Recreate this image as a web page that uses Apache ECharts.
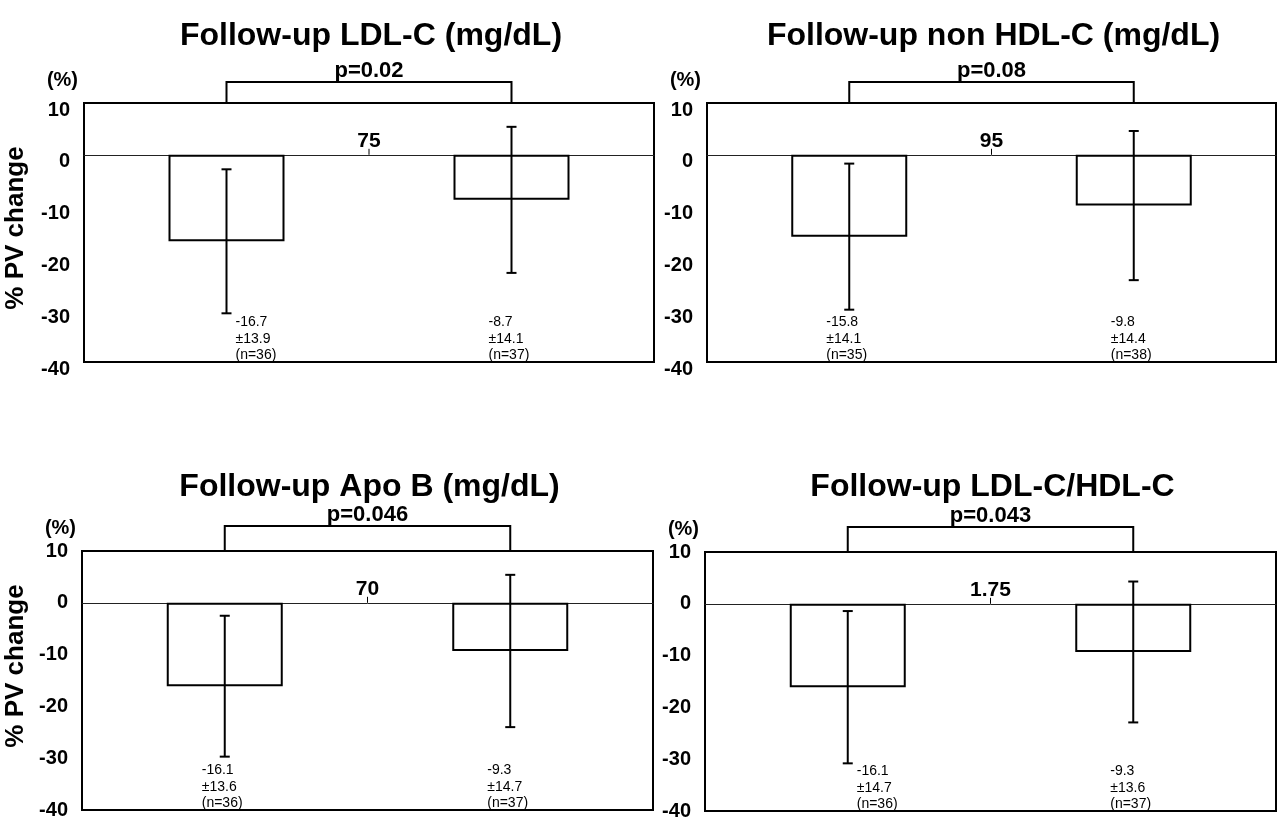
<!DOCTYPE html>
<html>
<head>
<meta charset="utf-8">
<script src="https://cdn.jsdelivr.net/npm/echarts@6/dist/echarts.min.js"></script>
<style>
  html, body { margin: 0; padding: 0; background: #fff; }
  #chart { width: 1278px; height: 819px; }
</style>
</head>
<body>
<div id="chart"></div>
<script>
// Four panels: % change in plaque volume by lipid level at follow-up (below / above cut-off)
const panelTitles = [
  'Follow-up LDL-C (mg/dL)',
  'Follow-up non HDL-C (mg/dL)',
  'Follow-up Apo B (mg/dL)',
  'Follow-up LDL-C/HDL-C'
];
const groups = ['below', 'above'];
const meanChange = [
  [-16.7, -8.7],
  [-15.8, -9.8],
  [-16.1, -9.3],
  [-16.1, -9.3]
];
const sdChange = [
  [13.9, 14.1],
  [14.1, 14.4],
  [13.6, 14.7],
  [14.7, 13.6]
];
const groupN = [
  [36, 37],
  [35, 38],
  [36, 37],
  [36, 37]
];
const pValues = ['p=0.02', 'p=0.08', 'p=0.046', 'p=0.043'];
const cutoffs = ['75', '95', '70', '1.75'];
const yMin = -40, yMax = 10, yStep = 10;
const yName = '% PV change';
const unitName = '(%)';

const FONT = "'Liberation Sans', Arial, Helvetica, sans-serif";

// panel frames in page pixels
const frames = [
  { left: 84,  top: 103, width: 570, height: 259 },
  { left: 707, top: 103, width: 569, height: 259 },
  { left: 82,  top: 551, width: 571, height: 259 },
  { left: 705, top: 552, width: 571, height: 259 }
];

const chart = echarts.init(document.getElementById('chart'), null, { renderer: 'canvas' });

const grids = [], xAxes = [], yAxes = [], series = [], titles = [], graphics = [];

frames.forEach((f, p) => {
  const upperRow = p < 2;
  grids.push({
    left: f.left, top: f.top, width: f.width, height: f.height,
    show: true, borderColor: '#000', borderWidth: 2, backgroundColor: 'transparent',
    containLabel: false, outerBoundsMode: 'none'
  });
  xAxes.push({
    type: 'category', gridIndex: p, data: groups,
    axisLine: { show: true, onZero: true, lineStyle: { color: '#222', width: 1 } },
    axisTick: { show: false }, axisLabel: { show: false }, splitLine: { show: false }
  });
  const tickLabel = { color: '#000', fontFamily: FONT, fontWeight: 'bold', fontSize: 20, margin: 14 };
  if (upperRow) {
    // upper-row labels sit a little below their value level
    tickLabel.verticalAlign = 'top';
    tickLabel.lineHeight = 14;
  }
  yAxes.push({
    type: 'value', gridIndex: p, min: yMin, max: yMax, interval: yStep,
    name: unitName, nameLocation: 'end', nameGap: 13,
    nameTextStyle: { color: '#000', fontFamily: FONT, fontWeight: 'bold', fontSize: 20, align: 'right', padding: [0, 6, 0, 0] },
    axisLine: { show: false }, axisTick: { show: false }, splitLine: { show: false },
    axisLabel: tickLabel
  });
  titles.push({
    text: panelTitles[p],
    left: f.left + f.width / 2 - 3, top: upperRow ? 15 : 466, textAlign: 'center',
    textStyle: { color: '#000', fontFamily: FONT, fontWeight: 'bold', fontSize: 32 }
  });

  // open bars
  series.push({
    type: 'bar', xAxisIndex: p, yAxisIndex: p, data: meanChange[p],
    barWidth: 116, silent: true, z: 2,
    itemStyle: { color: '#fff', borderColor: '#000', borderWidth: 2 }
  });

  // mean ± SD error bars with the value notes under each group
  series.push({
    type: 'custom', xAxisIndex: p, yAxisIndex: p, z: 3, clip: false, silent: true,
    data: groups.map((g, i) => [i, meanChange[p][i], sdChange[p][i], groupN[p][i]]),
    renderItem: (params, api) => {
      const i = api.value(0), m = api.value(1), sd = api.value(2), n = api.value(3);
      const hi = api.coord([i, m + sd]);
      const lo = api.coord([i, m - sd]);
      const bottom = api.coord([i, yMin])[1];
      const cap = 5;
      const x = hi[0];
      const lineStyle = { stroke: '#000', lineWidth: 2 };
      const tx = (m - sd < -30.2) ? x + 9 : x - 23;
      const txt = (t, y) => ({
        type: 'text',
        style: { text: t, x: tx, y: y, fill: '#000', font: '14px ' + FONT, textAlign: 'left', textVerticalAlign: 'middle' }
      });
      return {
        type: 'group',
        children: [
          { type: 'line', shape: { x1: x, y1: hi[1], x2: x, y2: lo[1] }, style: lineStyle },
          { type: 'line', shape: { x1: x - cap, y1: hi[1], x2: x + cap, y2: hi[1] }, style: lineStyle },
          { type: 'line', shape: { x1: x - cap, y1: lo[1], x2: x + cap, y2: lo[1] }, style: lineStyle },
          txt(String(m), bottom - 40),
          txt('\u00b1' + sd, bottom - 23),
          txt('(n=' + n + ')', bottom - 7)
        ]
      };
    }
  });

  // significance bracket, p value and cut-off value
  series.push({
    type: 'custom', xAxisIndex: p, yAxisIndex: p, z: 4, clip: false, silent: true,
    data: [[0, 1]],
    renderItem: (params, api) => {
      const a = api.coord([api.value(0), yMax]);
      const b = api.coord([api.value(1), yMax]);
      const zero = api.coord([0, 0])[1];
      const top = a[1] - (upperRow ? 21 : 25);
      const mid = (a[0] + b[0]) / 2;
      const ls = { stroke: '#000', lineWidth: 2, fill: null };
      return {
        type: 'group',
        children: [
          { type: 'polyline', shape: { points: [[a[0], a[1]], [a[0], top], [b[0], top], [b[0], b[1]]] }, style: ls },
          { type: 'text', style: { text: pValues[p], x: mid, y: top, fill: '#000', font: 'bold 22px ' + FONT, textAlign: 'center', textVerticalAlign: 'bottom' } },
          { type: 'line', shape: { x1: mid, y1: zero, x2: mid, y2: zero - 6 }, style: { stroke: '#000', lineWidth: 1 } },
          { type: 'text', style: { text: cutoffs[p], x: mid, y: zero - 3, fill: '#000', font: 'bold 21px ' + FONT, textAlign: 'center', textVerticalAlign: 'bottom' } }
        ]
      };
    }
  });
});

// shared y-axis caption for each row
[228, 666].forEach(cy => {
  graphics.push({
    type: 'text', x: 16, y: cy, rotation: Math.PI / 2,
    style: { text: yName, fill: '#000', font: 'bold 26px ' + FONT, textAlign: 'center', textVerticalAlign: 'middle' }
  });
});

chart.setOption({
  animation: false,
  backgroundColor: '#fff',
  title: titles,
  grid: grids,
  xAxis: xAxes,
  yAxis: yAxes,
  series: series,
  graphic: graphics
});
</script>
</body>
</html>
